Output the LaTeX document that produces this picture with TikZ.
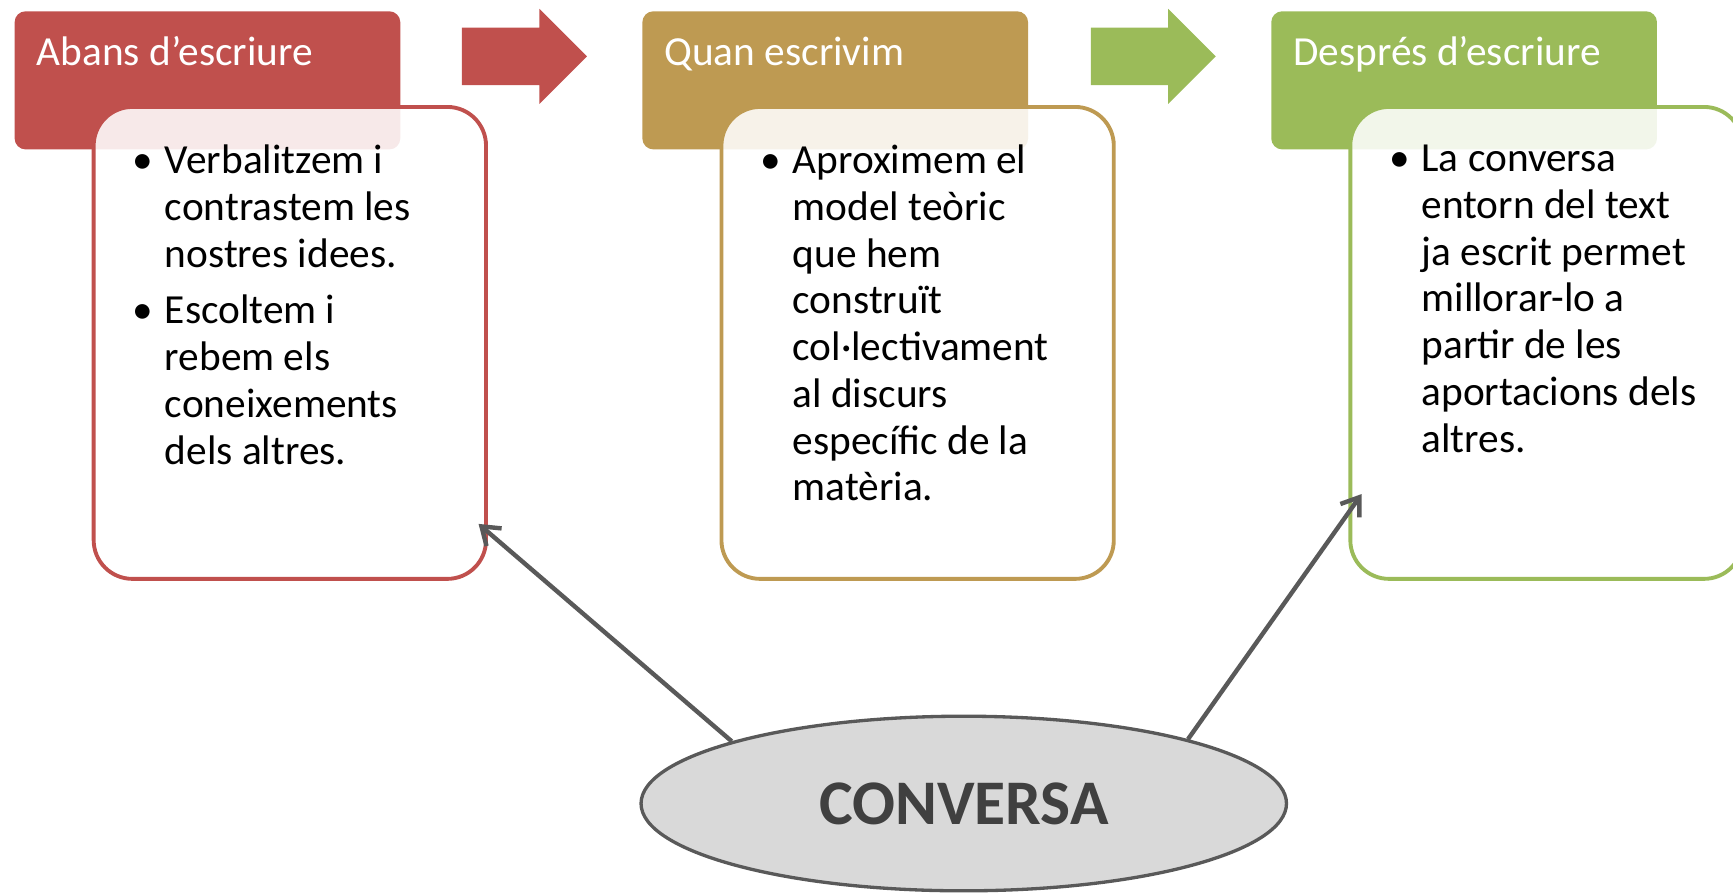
\documentclass[tikz,border=0pt]{standalone}
\usepackage{fontspec}
\setmainfont{Carlito}
\usetikzlibrary{arrows.meta,shapes.geometric}
\definecolor{redc}{HTML}{C0504D}
\definecolor{goldc}{HTML}{BE9A52}
\definecolor{greenc}{HTML}{9BBB59}
\definecolor{darkc}{HTML}{595959}
\definecolor{labelc}{HTML}{404040}
\definecolor{ellc}{HTML}{D9D9D9}
\newcommand{\bul}{\makebox[29pt][l]{\textbullet}}
\newcommand{\ind}{\hspace*{29pt}}

\begin{document}
\begin{tikzpicture}[x=1pt, y=-1pt,
    head/.style={rectangle, rounded corners=10pt, minimum width=349pt, minimum height=125pt, anchor=north west, inner sep=0pt},
    headtxt/.style={anchor=base west, text=white, font=\fontsize{37.4}{44}\selectfont, inner sep=0pt},
    body/.style={draw, rectangle, rounded corners=35pt, line width=3.5pt, fill=white, fill opacity=0.88, minimum width=355pt, minimum height=427pt, anchor=north west, inner sep=0pt},
    bodytxt/.style={anchor=north west, align=left, font=\fontsize{37.4}{42.3}\selectfont, inner sep=0pt},
    conn/.style={draw=darkc, line width=4pt, -{Straight Barb[length=15pt,width=21pt]}}]
    \useasboundingbox (0,0) rectangle (1568,809);

    \node[head, fill=redc] (h1) at (13,10) {};
    \node[head, fill=goldc] (h2) at (581,10) {};
    \node[head, fill=greenc] (h3) at (1150,10) {};

    \foreach \x/\c in {418/redc, 987/greenc}
        \fill[\c] (\x,25) -- (\x+70,25) -- (\x+70,8) -- (\x+113,51) -- (\x+70,94) -- (\x+70,77) -- (\x,77) -- cycle;

    \node[body, draw=redc] (b1) at (83,95) {};
    \node[body, draw=goldc] (b2) at (651,95) {};
    \node[body, draw=greenc] (b3) at (1220,95) {};

    \node[headtxt] (t1) at (33,59) {Abans d’escriure};
    \node[headtxt] (t2) at (601,59) {Quan escrivim};
    \node[headtxt] (t3) at (1170,59) {Després d’escriure};

    \node[bodytxt] (l1) at (120,131) {\bul Verbalitzem i\\ \ind contrastem les\\ \ind nostres idees.\\[9pt]
        \bul Escoltem i\\ \ind rebem els\\ \ind coneixements\\ \ind dels altres.};
    \node[bodytxt] (l2) at (688,131) {\bul Aproximem el\\ \ind model teòric\\ \ind que hem\\ \ind construït\\
        \ind col·lectivament\\ \ind al discurs\\ \ind específic de la\\ \ind matèria.};
    \node[bodytxt] (l3) at (1257,131) {\bul La conversa\\ \ind entorn del text\\ \ind ja escrit permet\\
        \ind millorar-lo a\\ \ind partir de les\\ \ind aportacions dels\\ \ind altres.};

    \node[ellipse, draw=darkc, fill=ellc, line width=3pt, minimum width=584pt, minimum height=158pt,
        text=labelc, font=\bfseries\fontsize{57.5}{60}\selectfont] (conv) at (872,727) {CONVERSA};

    \coordinate (p1) at (433,474);
    \coordinate (p3) at (1232,447);
    \draw[conn] (conv.165) -- (p1);
    \draw[conn] (conv.16) -- (p3);
\end{tikzpicture}
\end{document}
